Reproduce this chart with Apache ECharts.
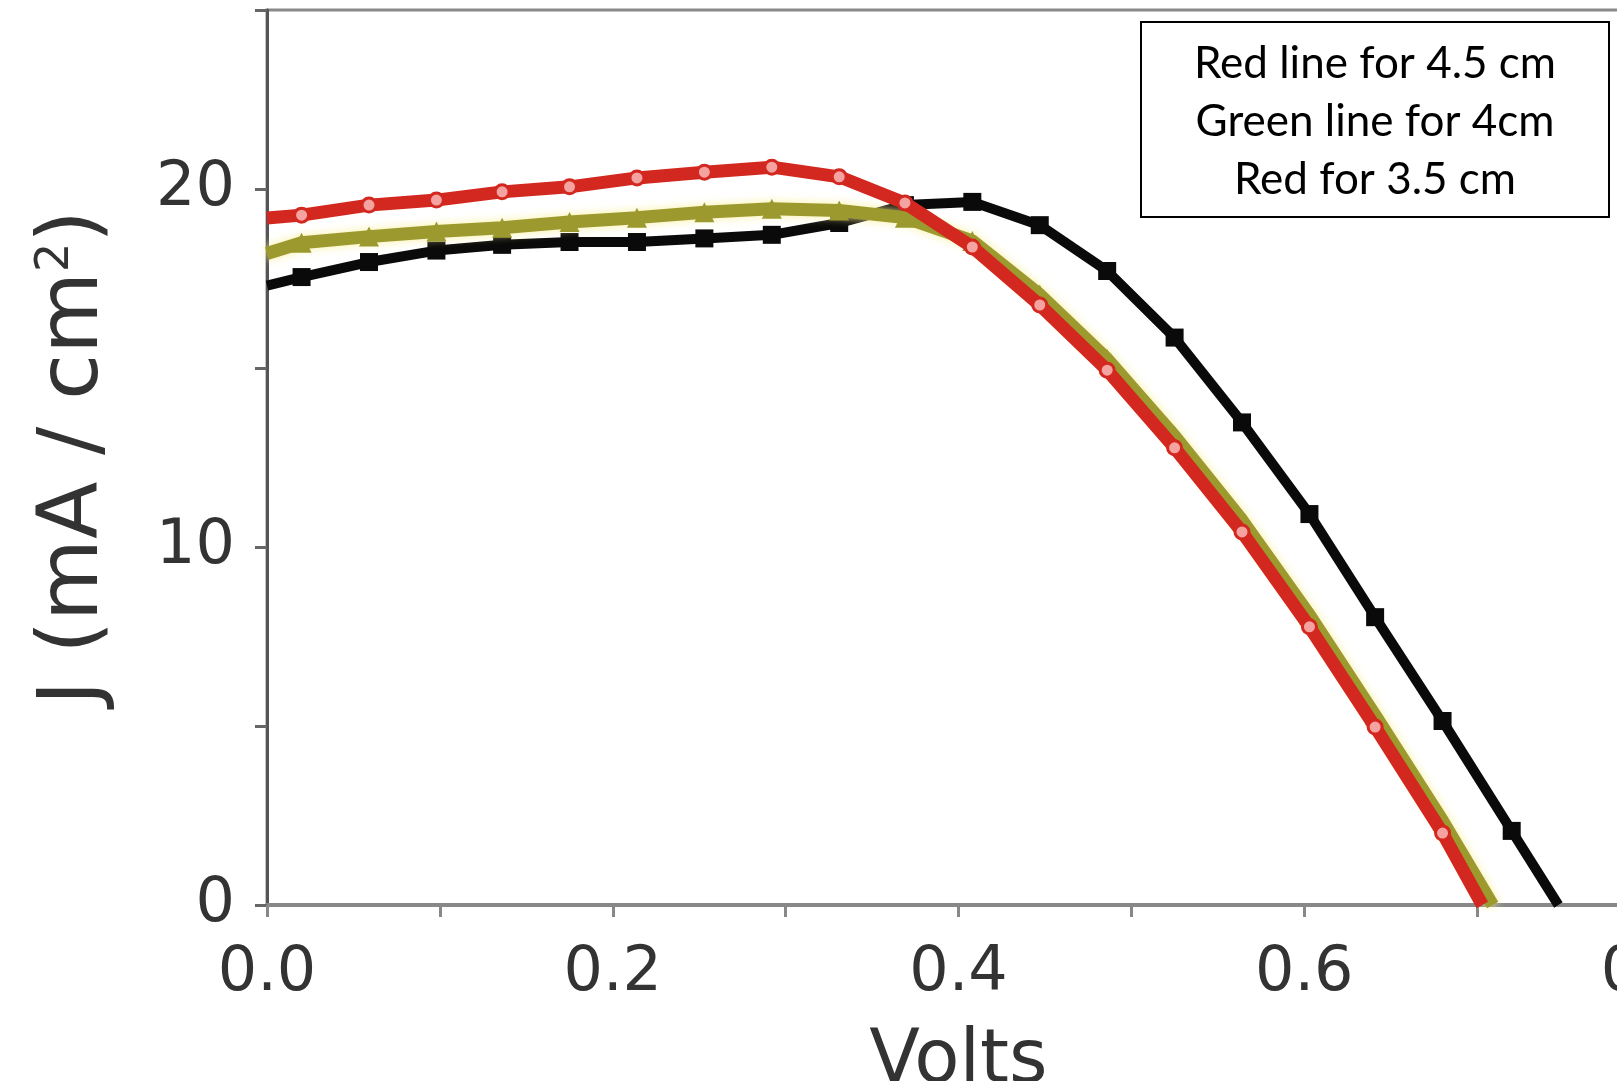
<!DOCTYPE html>
<html>
<head>
<meta charset="utf-8">
<script src="https://cdn.jsdelivr.net/npm/echarts@6/dist/echarts.min.js"></script>
<style>
html,body{margin:0;padding:0;background:#fff;}
#chart{width:1617px;height:1081px;}
</style>
</head>
<body>
<div id="chart"></div>
<script>
// Voltage grid (V) at which the curves were sampled
const volts = [0, 0.020, 0.059, 0.098, 0.136, 0.175, 0.214, 0.253, 0.292, 0.331, 0.369, 0.408, 0.447, 0.486, 0.525, 0.564, 0.603, 0.641, 0.680, 0.720, 0.747];
// Current density J (mA/cm²)
const blackJ = [17.3, 17.54, 17.96, 18.28, 18.44, 18.52, 18.52, 18.62, 18.72, 19.05, 19.55, 19.64, 18.99, 17.71, 15.85, 13.48, 10.92, 8.04, 5.14, 2.07, 0];
const oliveV = [0, 0.020, 0.059, 0.098, 0.136, 0.175, 0.214, 0.253, 0.292, 0.331, 0.369, 0.408, 0.447, 0.486, 0.525, 0.564, 0.603, 0.641, 0.680, 0.709];
const oliveJ = [18.2, 18.5, 18.67, 18.81, 18.92, 19.08, 19.2, 19.35, 19.45, 19.4, 19.2, 18.55, 17.05, 15.25, 13.1, 10.75, 8.1, 5.3, 2.35, 0];
const redV = [0, 0.020, 0.059, 0.098, 0.136, 0.175, 0.214, 0.253, 0.292, 0.331, 0.369, 0.408, 0.447, 0.486, 0.525, 0.564, 0.603, 0.641, 0.680, 0.703];
const redJ = [19.19, 19.27, 19.55, 19.69, 19.92, 20.06, 20.31, 20.47, 20.61, 20.34, 19.61, 18.38, 16.76, 14.94, 12.77, 10.42, 7.77, 4.97, 2.01, 0];

const xTicks = [0, 0.1, 0.2, 0.3, 0.4, 0.5, 0.6, 0.7, 0.8];
const yTicks = [0, 5, 10, 15, 20, 25];
const xName = 'Volts';
const legendLines = ['Red line for 4.5 cm', 'Green line for 4cm', 'Red for 3.5 cm'];

function pts(xs, ys) {
  return xs.map((x, i) => {
    const item = { value: [x, ys[i]] };
    if (i === 0 || i === xs.length - 1) item.symbol = 'none';
    return item;
  });
}

const chart = echarts.init(document.getElementById('chart'), null, { renderer: 'canvas' });
chart.setOption({
  animation: false,
  backgroundColor: '#ffffff',
  grid: {
    left: 267, top: 10, bottom: 176, right: -33,
    containLabel: false, outerBoundsMode: 'none',
    show: true, borderColor: '#8a8a8a', borderWidth: 3, backgroundColor: 'transparent'
  },
  xAxis: {
    type: 'value', min: xTicks[0], max: xTicks[xTicks.length - 1], interval: 0.1,
    name: xName, nameLocation: 'middle', nameGap: 121,
    nameTextStyle: { fontFamily: 'DejaVu Sans', fontSize: 74, color: '#333' },
    axisLine: { lineStyle: { color: '#888', width: 4 } },
    axisTick: { show: true, length: 12, lineStyle: { color: '#888', width: 3 } },
    axisLabel: {
      fontFamily: 'DejaVu Sans', fontSize: 62, color: '#333', margin: 38,
      formatter: v => (Math.round(v * 10) % 2 === 0 ? v.toFixed(1) : '')
    },
    splitLine: { show: false }
  },
  yAxis: {
    type: 'value', min: yTicks[0], max: yTicks[yTicks.length - 1], interval: 5,
    name: '{a|J (mA / cm}{s|2}{a|)}', nameLocation: 'middle', nameGap: 150, nameRotate: 90,
    nameTextStyle: {
      rich: {
        a: { fontFamily: 'DejaVu Sans', fontSize: 84, color: '#333' },
        s: { fontFamily: 'DejaVu Sans', fontSize: 46, color: '#333', verticalAlign: 'top', padding: [0, 0, 36, 0] }
      }
    },
    axisLine: { lineStyle: { color: '#555', width: 3 } },
    axisTick: { show: true, length: 12, lineStyle: { color: '#666', width: 3 } },
    axisLabel: {
      fontFamily: 'DejaVu Sans', fontSize: 62, color: '#333', margin: 32,
      formatter: v => (v % 10 === 0 ? String(v) : '')
    },
    splitLine: { show: false }
  },
  series: [
    {
      name: 'black', type: 'line', z: 2, data: pts(volts, blackJ),
      symbol: 'rect', symbolSize: 18,
      lineStyle: { color: '#0a0a0a', width: 10 },
      itemStyle: { color: '#0a0a0a' }
    },
    {
      name: 'olive', type: 'line', z: 3, data: pts(oliveV, oliveJ),
      symbol: 'triangle', symbolSize: 20,
      lineStyle: { color: '#9c9a2e', width: 13, shadowColor: 'rgba(250,240,150,0.9)', shadowBlur: 10 },
      itemStyle: { color: '#9c9a2e' }
    },
    {
      name: 'red', type: 'line', z: 4, data: pts(redV, redJ),
      symbol: 'circle', symbolSize: 14,
      lineStyle: { color: '#d3281f', width: 13 },
      itemStyle: { color: '#f5a3a0', borderColor: '#d3281f', borderWidth: 3 }
    }
  ],
  graphic: [
    {
      type: 'rect', z: 100,
      shape: { x: 1141, y: 22, width: 468, height: 195 },
      style: { fill: '#ffffff', stroke: '#000000', lineWidth: 2 }
    },
    {
      type: 'text', z: 101, x: 1375, y: 122,
      style: {
        text: legendLines.join('\n'), fill: '#000', font: '44px Lato',
        align: 'center', verticalAlign: 'middle', lineHeight: 58
      }
    }
  ]
});
</script>
</body>
</html>
